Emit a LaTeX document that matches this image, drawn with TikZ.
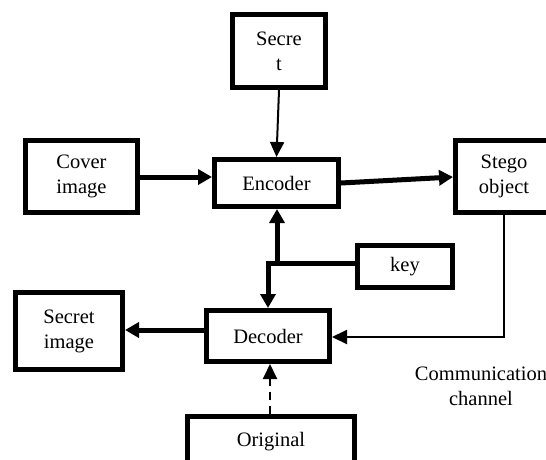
\documentclass[tikz,border=0pt]{standalone}
\usepackage{fontspec}
\setmainfont{Liberation Serif}
\usetikzlibrary{arrows.meta}
\begin{document}
\begin{tikzpicture}[x=1pt,y=-1pt,
  blockbox/.style={draw,line width=5pt,rectangle,inner sep=0pt,align=center,
    font=\rmfamily\fontsize{20.5}{25}\selectfont},
  thickarrow/.style={line width=5pt,-{Triangle[length=14pt,width=15pt]}},
  thinarrow/.style={line width=2pt,-{Triangle[length=15pt,width=14pt]}},
  labeltext/.style={align=center,font=\rmfamily\fontsize{20.5}{25}\selectfont}]
\useasboundingbox (0,0) rectangle (546,459);
% blocks
\node[blockbox,minimum width=93pt,minimum height=73pt] (secret) at (279,51) {Secre\\t};
\node[blockbox,minimum width=112pt,minimum height=72pt] (cover) at (81.5,176.5) {Cover\\image};
\node[blockbox,minimum width=124pt,minimum height=47pt] (encoder) at (276.5,183) {Encoder};
\node[blockbox,minimum width=97pt,minimum height=72pt] (stego) at (504,176.5) {Stego\\object};
\node[blockbox,minimum width=95pt,minimum height=42pt] (key) at (405,266.5) {key};
\node[blockbox,minimum width=123pt,minimum height=51pt] (decoder) at (268,336) {Decoder};
\node[blockbox,minimum width=107pt,minimum height=77pt] (secretimg) at (69,331) {Secret\\image};
\node[blockbox,minimum width=167pt,minimum height=51pt] (original) at (271,442) {Original};
\node[labeltext] (channel) at (481,386) {Communication\\channel};
% key junction points
\coordinate (kj) at (277,263);
\coordinate (kd) at (268,263);
% connectors
\draw[thinarrow] (secret.south) -- (encoder.north);
\draw[thickarrow] (cover.east |- 0,177) -- (encoder.west |- 0,177);
\draw[thickarrow] (encoder.east |- 0,183) -- (stego.west |- 0,177);
\draw[line width=5pt] (key.west |- kj) -- (kj);
\draw[thickarrow] (kj) -- (kj |- encoder.south);
\draw[thickarrow] ([xshift=2pt]kj) -- (kd) -- (kd |- decoder.north);
\draw[thinarrow] (stego.south) -- (stego.south |- 0,337) -- (decoder.east |- 0,337);
\draw[thickarrow] (decoder.west |- 0,330) -- (secretimg.east |- 0,330);
\draw[thinarrow,dashed,dash pattern=on 8pt off 6pt] (original.north -| 270,0) -- (decoder.south -| 270,0);
\end{tikzpicture}
\end{document}
